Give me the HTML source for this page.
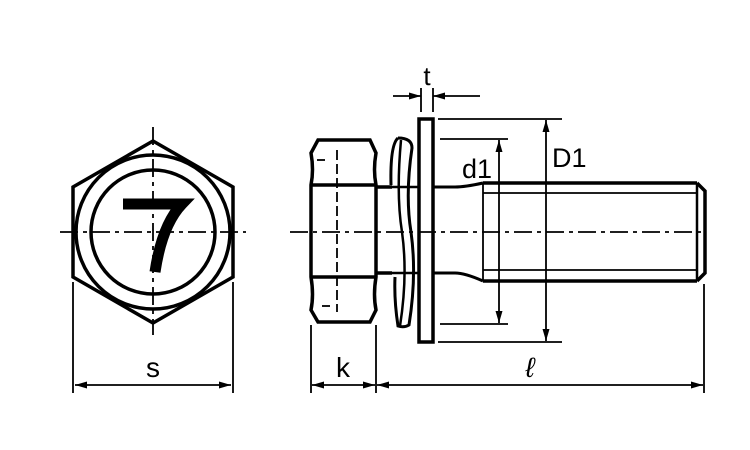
<!DOCTYPE html>
<html><head><style>body{margin:0;background:#fff}svg{display:block}</style></head><body>
<svg width="750" height="450" viewBox="0 0 750 450" xmlns="http://www.w3.org/2000/svg">
<defs>
<marker id="a" viewBox="0 0 12 7" refX="12" refY="3.5" markerWidth="12" markerHeight="7" orient="auto" markerUnits="userSpaceOnUse"><path d="M0,0L12,3.5L0,7z" fill="#000"/></marker>
</defs>
<g fill="none" stroke="#000">
<!-- left view -->
<polygon points="153,141 233,187 233,277 153,323 73,277 73,187" stroke-width="3.5"/>
<circle cx="153" cy="232" r="77" stroke-width="3.5"/>
<circle cx="153" cy="232" r="62" stroke-width="3.5"/>
<line x1="60" y1="232" x2="246" y2="232" stroke-width="1.8" stroke-dasharray="18,5,4,5"/>
<line x1="153" y1="127" x2="153" y2="335" stroke-width="1.8" stroke-dasharray="18,5,4,5"/>
<line x1="73" y1="282" x2="73" y2="393" stroke-width="1.8"/>
<line x1="233" y1="282" x2="233" y2="393" stroke-width="1.8"/>
<line x1="153" y1="385" x2="75" y2="385" stroke-width="1.8" marker-end="url(#a)"/>
<line x1="153" y1="385" x2="231" y2="385" stroke-width="1.8" marker-end="url(#a)"/>

<!-- head side -->
<path d="M318,140 L370,140 L376,153 Q373,170 376,185 L376,277 Q373,295 376,310 L370,322 L318,322 L311,310 Q314,295 311,277 L311,185 Q314,170 311,153 Z" stroke-width="3.5"/>
<line x1="311" y1="185" x2="376" y2="185" stroke-width="3.5"/>
<line x1="311" y1="277" x2="376" y2="277" stroke-width="3.5"/>
<line x1="337" y1="150" x2="337" y2="312" stroke-width="1.8" stroke-dasharray="10,4"/>
<line x1="317" y1="160" x2="325" y2="160" stroke-width="1.8"/>
<line x1="322" y1="306" x2="330" y2="306" stroke-width="1.8"/>
<!-- shank under head -->
<line x1="376" y1="187" x2="392" y2="187" stroke-width="3.5"/>
<line x1="376" y1="273" x2="392" y2="273" stroke-width="3.5"/>
<!-- spring washer -->
<path d="M398,138 Q412,138 412,148 Q405,195 411,232 Q417,275 409,325 Q404,328 398,326 Q394,300 395,277" stroke-width="3"/>
<path d="M398,138 Q390,145 391,185" stroke-width="3"/>
<path d="M401,140 Q396,195 402,232 Q408,275 400,326" stroke-width="2.5"/>
<line x1="392" y1="187" x2="418" y2="187" stroke-width="2.5"/>
<line x1="392" y1="273" x2="418" y2="273" stroke-width="2.5"/>
<!-- flat washer -->
<rect x="419" y="119" width="14" height="223" stroke-width="3.5"/>
<!-- shank -->
<path d="M434,187 L455,187 Q465,187 483,183" stroke-width="3"/>
<path d="M434,273 L455,273 Q465,273 483,281" stroke-width="3"/>
<line x1="483" y1="183" x2="697" y2="183" stroke-width="3.5"/>
<line x1="483" y1="281" x2="697" y2="281" stroke-width="3.5"/>
<line x1="483" y1="193" x2="697" y2="193" stroke-width="1.8"/>
<line x1="483" y1="270" x2="697" y2="270" stroke-width="1.8"/>
<line x1="483" y1="183" x2="483" y2="281" stroke-width="1.8"/>
<line x1="697" y1="183" x2="697" y2="281" stroke-width="2.5"/>
<path d="M697,183 L705,191 L705,273 L697,281" stroke-width="3.5"/>
<line x1="290" y1="232" x2="705" y2="232" stroke-width="1.8" stroke-dasharray="18,5,4,5"/>
<!-- t -->
<line x1="421" y1="88" x2="421" y2="112" stroke-width="1.8"/>
<line x1="433" y1="88" x2="433" y2="112" stroke-width="1.8"/>
<line x1="393" y1="96" x2="421" y2="96" stroke-width="1.8" marker-end="url(#a)"/>
<line x1="480" y1="96" x2="433" y2="96" stroke-width="1.8" marker-end="url(#a)"/>
<!-- d1 -->
<line x1="440" y1="139" x2="508" y2="139" stroke-width="1.8"/>
<line x1="440" y1="324" x2="508" y2="324" stroke-width="1.8"/>
<line x1="499" y1="232" x2="499" y2="140" stroke-width="1.8" marker-end="url(#a)"/>
<line x1="499" y1="232" x2="499" y2="323" stroke-width="1.8" marker-end="url(#a)"/>
<!-- D1 -->
<line x1="438" y1="119" x2="562" y2="119" stroke-width="1.8"/>
<line x1="438" y1="342" x2="562" y2="342" stroke-width="1.8"/>
<line x1="546" y1="232" x2="546" y2="120" stroke-width="1.8" marker-end="url(#a)"/>
<line x1="546" y1="232" x2="546" y2="341" stroke-width="1.8" marker-end="url(#a)"/>
<!-- k & l -->
<line x1="311" y1="325" x2="311" y2="393" stroke-width="1.8"/>
<line x1="376" y1="325" x2="376" y2="393" stroke-width="1.8"/>
<line x1="704" y1="284" x2="704" y2="393" stroke-width="1.8"/>
<line x1="343" y1="385" x2="312" y2="385" stroke-width="1.8" marker-end="url(#a)"/>
<line x1="343" y1="385" x2="375" y2="385" stroke-width="1.8" marker-end="url(#a)"/>
<line x1="540" y1="385" x2="377" y2="385" stroke-width="1.8" marker-end="url(#a)"/>
<line x1="540" y1="385" x2="703" y2="385" stroke-width="1.8" marker-end="url(#a)"/>
<!-- 7 -->
<path d="M123,204 L182,204 Q162,225 155,272" stroke-width="11" stroke-linejoin="miter"/>
</g>
<g font-family="Liberation Sans, sans-serif" fill="#000">
<text x="153" y="377" font-size="28" text-anchor="middle">s</text>
<text x="343" y="377" font-size="28" text-anchor="middle">k</text>
<text x="530" y="377" font-size="28" font-style="italic" text-anchor="middle">ℓ</text>
<text x="427" y="85" font-size="26" text-anchor="middle">t</text>
<text x="462" y="178" font-size="27">d1</text>
<text x="552" y="167" font-size="27">D1</text>
</g>
</svg>
</body></html>
